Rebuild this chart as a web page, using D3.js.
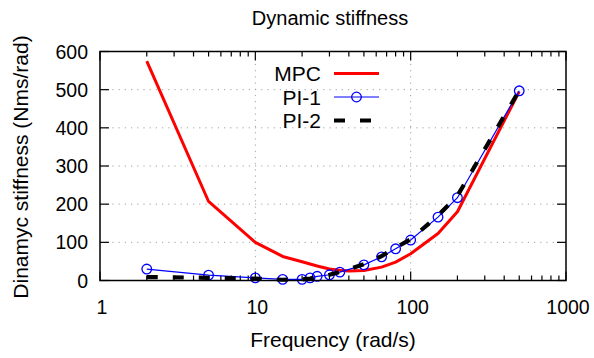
<!DOCTYPE html>
<html><head><meta charset="utf-8">
<script src="https://cdn.jsdelivr.net/npm/d3@7"></script>
<style>body{margin:0;background:#fff}svg{display:block}text{font-family:"Liberation Sans",Arial,sans-serif;fill:#000}</style>
</head><body>
<svg id="c" width="594" height="358"></svg>
<script>
const title = "Dynamic stiffness";
const xLabel = "Frequency (rad/s)";
const yLabel = "Dinamyc stiffness (Nms/rad)";
const xTicks = [1, 10, 100, 1000];
const yTicks = [0, 100, 200, 300, 400, 500, 600];
const seriesNames = ["MPC", "PI-1", "PI-2"];
const mpcX = [2, 5, 10, 15, 20, 25, 30, 35, 40, 50, 65, 80, 100, 150, 200, 500];
const mpcY = [575, 207, 100, 63, 49, 38, 30, 27, 25, 26, 35, 48, 70, 123, 180, 495];
const pi1X = [2, 5, 10, 15, 20, 22.5, 25, 30, 35, 50, 65, 80, 100, 150, 200, 500];
const pi1Y = [30, 14, 7, 3, 3, 7, 11, 15, 22, 41, 62, 83, 106, 166, 217, 497];
const pi2X = [2, 5, 10, 15, 20, 22.5, 25, 30, 35, 50, 65, 80, 100, 150, 200, 500];
const pi2Y = [9, 7, 5, 2, 3, 5, 9, 15, 22, 43, 64, 86, 108, 170, 222, 498];

const svg = d3.select("#c");
const L = 100, R = 566, T = 51.5, B = 280.5;
const x = d3.scaleLog().domain([1, 1000]).range([L, R]);
const y = d3.scaleLinear().domain([0, 600]).range([B, T]);

// grid
const g = svg.append("g");
yTicks.filter(v => v > 0 && v < 600).forEach(v => {
  g.append("line").attr("x1", L).attr("x2", R).attr("y1", y(v)).attr("y2", y(v))
    .attr("stroke", "#a0a0a0").attr("stroke-width", 1).attr("stroke-dasharray", "1.2,5");
});
xTicks.filter(v => v > 1 && v < 1000).forEach(v => {
  g.append("line").attr("y1", T).attr("y2", B).attr("x1", x(v)).attr("x2", x(v))
    .attr("stroke", "#a0a0a0").attr("stroke-width", 1).attr("stroke-dasharray", "1.2,5");
});

// axes with inward ticks
const minor = [];
for (let d = 1; d < 1000; d *= 10) for (let k = 2; k <= 9; k++) minor.push(d * k);
const ax = svg.append("g").attr("stroke", "#000").attr("stroke-width", 1.2);
xTicks.forEach(v => {
  ax.append("line").attr("x1", x(v)).attr("x2", x(v)).attr("y1", B).attr("y2", B - 9);
  ax.append("line").attr("x1", x(v)).attr("x2", x(v)).attr("y1", T).attr("y2", T + 9);
});
minor.forEach(v => {
  ax.append("line").attr("x1", x(v)).attr("x2", x(v)).attr("y1", B).attr("y2", B - 5);
  ax.append("line").attr("x1", x(v)).attr("x2", x(v)).attr("y1", T).attr("y2", T + 5);
});
yTicks.forEach(v => {
  ax.append("line").attr("x1", L).attr("x2", L + 9).attr("y1", y(v)).attr("y2", y(v));
  ax.append("line").attr("x1", R).attr("x2", R - 9).attr("y1", y(v)).attr("y2", y(v));
});

// tick labels
svg.append("g").selectAll("text").data(yTicks).join("text")
  .attr("x", L - 12).attr("y", d => y(d)).attr("dy", "0.36em")
  .attr("text-anchor", "end").attr("font-size", 19.5).text(d => d);
svg.append("g").selectAll("text").data(xTicks).join("text")
  .attr("x", d => x(d) + 2).attr("y", 314)
  .attr("text-anchor", "middle").attr("font-size", 19.5).text(d => d);

// labels
svg.append("text").attr("x", 330).attr("y", 25).attr("text-anchor", "middle").attr("font-size", 20).text(title);
svg.append("text").attr("x", 333).attr("y", 347).attr("text-anchor", "middle").attr("font-size", 21).text(xLabel);
svg.append("text").attr("transform", "translate(28,167) rotate(-90)").attr("text-anchor", "middle").attr("font-size", 21).text(yLabel);

// series
const line = d3.line().x(d => x(d[0])).y(d => y(d[1]));
const mpc = mpcX.map((v, i) => [v, mpcY[i]]);
const pi1 = pi1X.map((v, i) => [v, pi1Y[i]]);
const pi2 = pi2X.map((v, i) => [v, pi2Y[i]]);

svg.append("path").datum(mpc).attr("d", line).attr("fill", "none").attr("stroke", "#ff0000").attr("stroke-width", 3).attr("stroke-linejoin", "round");
svg.append("path").datum(pi1).attr("d", line).attr("fill", "none").attr("stroke", "#0000ff").attr("stroke-width", 1.2);
svg.append("g").selectAll("circle").data(pi1).join("circle")
  .attr("cx", d => x(d[0])).attr("cy", d => y(d[1])).attr("r", 4.8)
  .attr("fill", "none").attr("stroke", "#0000ff").attr("stroke-width", 1.3);
svg.append("path").datum(pi2).attr("d", line).attr("fill", "none").attr("stroke", "#000").attr("stroke-width", 4.2).attr("stroke-dasharray", "11,15");

// frame
svg.append("rect").attr("x", L).attr("y", T).attr("width", R - L).attr("height", B - T)
  .attr("fill", "none").attr("stroke", "#000").attr("stroke-width", 1.5);

// legend
const lg = svg.append("g");
const rows = [73.5, 97, 120.5];
seriesNames.forEach((n, i) => {
  lg.append("text").attr("x", 321).attr("y", rows[i]).attr("dy", "0.36em").attr("text-anchor", "end").attr("font-size", 21).text(n);
});
lg.append("line").attr("x1", 334).attr("x2", 379).attr("y1", rows[0]).attr("y2", rows[0]).attr("stroke", "#ff0000").attr("stroke-width", 3);
lg.append("line").attr("x1", 334).attr("x2", 379).attr("y1", rows[1]).attr("y2", rows[1]).attr("stroke", "#0000ff").attr("stroke-width", 1.2);
lg.append("circle").attr("cx", 356.5).attr("cy", rows[1]).attr("r", 4.8).attr("fill", "none").attr("stroke", "#0000ff").attr("stroke-width", 1.3);
lg.append("line").attr("x1", 334).attr("x2", 379).attr("y1", rows[2]).attr("y2", rows[2]).attr("stroke", "#000").attr("stroke-width", 4.2).attr("stroke-dasharray", "11,15");
</script>
</body></html>
